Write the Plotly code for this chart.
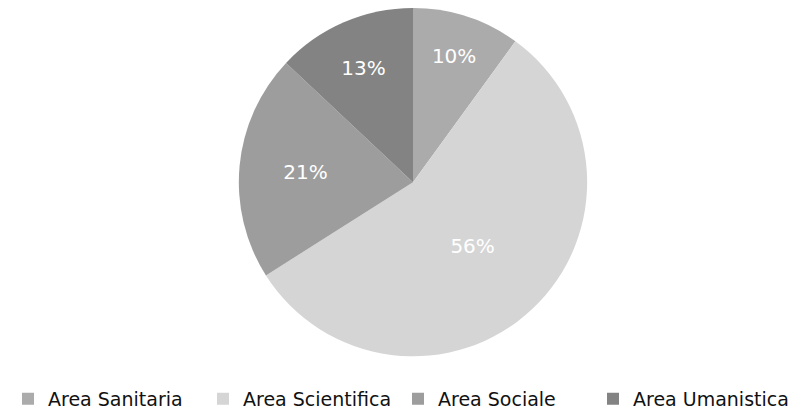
import plotly.graph_objects as go

labels = ["Area Sanitaria", "Area Scientifica", "Area Sociale", "Area Umanistica"]
values = [10, 56, 21, 13]
colors = ["#ababab", "#d5d5d5", "#9d9d9d", "#838383"]

fig = go.Figure(go.Pie(
    labels=labels,
    values=values,
    sort=False,
    direction="clockwise",
    rotation=0,
    marker=dict(colors=colors, line=dict(width=0)),
    textinfo="percent",
    texttemplate="%{percent:.0%}",
    textposition="inside",
    insidetextorientation="horizontal",
    textfont=dict(family="DejaVu Sans", size=20, color="white"),
    domain=dict(x=[0.0112, 1.0], y=[0.1463, 1.0]),
    hoverinfo="label+percent",
))

fig.update_layout(
    width=801,
    height=410,
    margin=dict(l=0, r=0, t=0, b=0),
    paper_bgcolor="white",
    plot_bgcolor="white",
    showlegend=True,
    legend=dict(
        orientation="h",
        x=0.474,
        xanchor="center",
        y=0.042,
        yanchor="middle",
        font=dict(family="DejaVu Sans", size=19, color="#111111"),
        itemwidth=30,
        entrywidth=150,
        entrywidthmode="pixels",
        traceorder="normal",
    ),
)

fig.write_html("out.html")
